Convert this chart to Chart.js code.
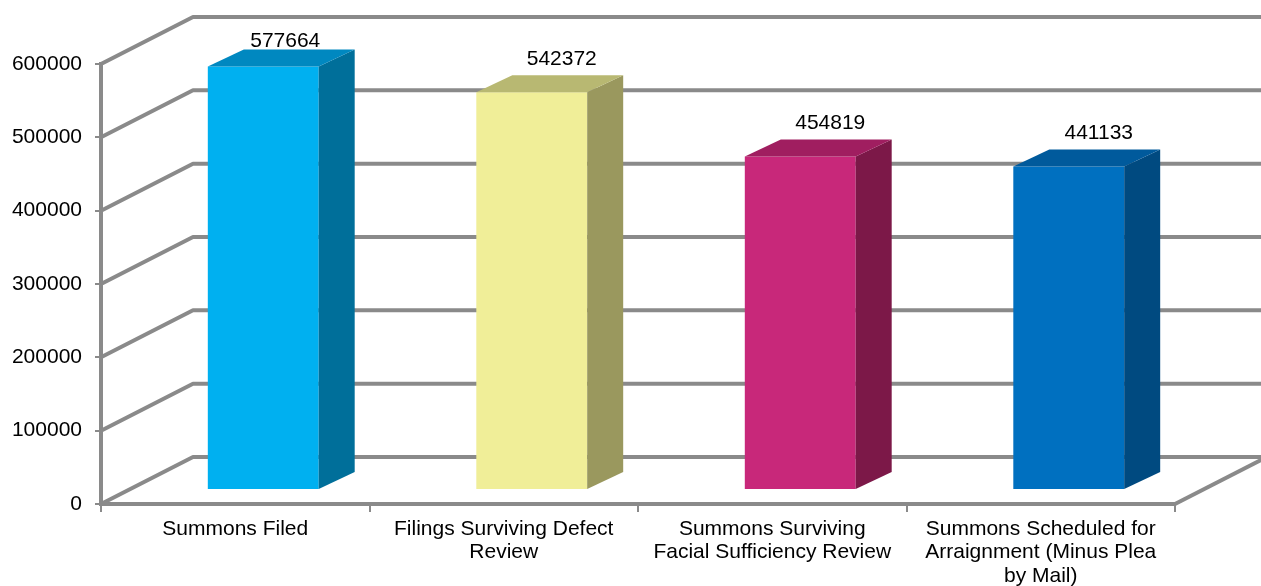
<!DOCTYPE html>
<html>
<head>
<meta charset="utf-8">
<script src="https://cdn.jsdelivr.net/npm/chart.js@4"></script>
<style>
    body { margin: 0; background: #fff; }
    canvas { display: block; }
</style>
</head>
<body>
<canvas id="summonsChart" width="1261" height="586"></canvas>
<script>
const categories = [
    ['Summons Filed'],
    ['Filings Surviving Defect', 'Review'],
    ['Summons Surviving', 'Facial Sufficiency Review'],
    ['Summons Scheduled for', 'Arraignment (Minus Plea', 'by Mail)']
];
const summonsCounts = [577664, 542372, 454819, 441133];
const yTicks = [0, 100000, 200000, 300000, 400000, 500000, 600000];

const frontColors = ['#00b0f0', '#f0ee98', '#c8287a', '#0070c0'];
const topColors = ['#0088c0', '#b8b872', '#a01e60', '#005a9c'];
const sideColors = ['#006f9a', '#9a985e', '#7c1848', '#004a80'];

const GRID = '#8a8a8a';
const FONT = '"Liberation Sans", Arial, sans-serif';
// depth of the back wall and of the bars, in pixels
const WALL_DX = 92, WALL_DY = -47;
const BAR_DX = 36, BAR_DY = -17;
const BAR_SHIFT_X = 28, BAR_SHIFT_Y = -14;

const box3d = {
    id: 'box3d',
    beforeDatasetsDraw(chart) {
        const ctx = chart.ctx;
        const y = chart.scales.y;
        const area = chart.chartArea;

        // back wall gridlines with their perspective lines
        ctx.save();
        ctx.strokeStyle = GRID;
        ctx.lineWidth = 4;
        ctx.lineJoin = 'round';
        yTicks.forEach(v => {
            const py = y.getPixelForValue(v);
            ctx.beginPath();
            ctx.moveTo(area.left, py);
            ctx.lineTo(area.left + WALL_DX, py + WALL_DY);
            ctx.lineTo(area.right + WALL_DX, py + WALL_DY);
            ctx.stroke();
        });
        // right edge of the floor
        const py0 = y.getPixelForValue(0);
        ctx.beginPath();
        ctx.moveTo(area.right, py0);
        ctx.lineTo(area.right + WALL_DX, py0 + WALL_DY);
        ctx.stroke();
        ctx.restore();

        ctx.save();
        ctx.translate(BAR_SHIFT_X, BAR_SHIFT_Y);
    },
    afterDatasetsDraw(chart) {
        const ctx = chart.ctx;
        const area = chart.chartArea;
        const meta = chart.getDatasetMeta(0);
        meta.data.forEach((bar, i) => {
            const p = bar.getProps(['x', 'y', 'base', 'width'], true);
            const l = p.x - p.width / 2, r = p.x + p.width / 2;
            // side face
            ctx.fillStyle = sideColors[i];
            ctx.beginPath();
            ctx.moveTo(r, p.y);
            ctx.lineTo(r + BAR_DX, p.y + BAR_DY);
            ctx.lineTo(r + BAR_DX, p.base + BAR_DY);
            ctx.lineTo(r, p.base);
            ctx.closePath();
            ctx.fill();
            // top face
            ctx.fillStyle = topColors[i];
            ctx.beginPath();
            ctx.moveTo(l, p.y);
            ctx.lineTo(l + BAR_DX, p.y + BAR_DY);
            ctx.lineTo(r + BAR_DX, p.y + BAR_DY);
            ctx.lineTo(r, p.y);
            ctx.closePath();
            ctx.fill();
            // value label, kept inside the plot like Excel does
            ctx.fillStyle = '#000';
            ctx.font = '21px ' + FONT;
            ctx.textAlign = 'center';
            ctx.textBaseline = 'bottom';
            const ly = p.y + BAR_DY - 6;
            const clamped = ly < area.top + 2;
            ctx.fillText(String(summonsCounts[i]), p.x + (clamped ? 22 : 30), clamped ? area.top + 2 : ly);
        });
        ctx.restore();
    }
};

new Chart(document.getElementById('summonsChart'), {
    type: 'bar',
    data: {
        labels: categories,
        datasets: [{
            data: summonsCounts,
            backgroundColor: frontColors,
            borderWidth: 0,
            barPercentage: 0.413,
            categoryPercentage: 1,
            clip: false
        }]
    },
    options: {
        responsive: false,
        animation: false,
        devicePixelRatio: 1,
        layout: { padding: { top: 64, right: 86, left: 0, bottom: 0 } },
        plugins: { legend: { display: false }, tooltip: { enabled: false } },
        scales: {
            x: {
                grid: { drawOnChartArea: false, drawTicks: true, tickLength: 8, color: GRID, lineWidth: 2 },
                border: { color: GRID, width: 4 },
                ticks: {
                    color: '#000', padding: 5, maxRotation: 0, autoSkip: false,
                    font: { family: FONT, size: 21, lineHeight: 1.12 }
                },
                afterFit(scale) { scale.height = 82; }
            },
            y: {
                min: 0, max: 600000,
                grid: { drawOnChartArea: false, drawTicks: true, tickLength: 6, color: GRID, lineWidth: 2 },
                border: { color: GRID, width: 4 },
                ticks: {
                    stepSize: 100000, color: '#000', padding: 13,
                    font: { family: FONT, size: 21 },
                    callback: v => String(v)
                },
                afterFit(scale) { scale.width = 101; }
            }
        }
    },
    plugins: [box3d]
});
</script>
</body>
</html>
